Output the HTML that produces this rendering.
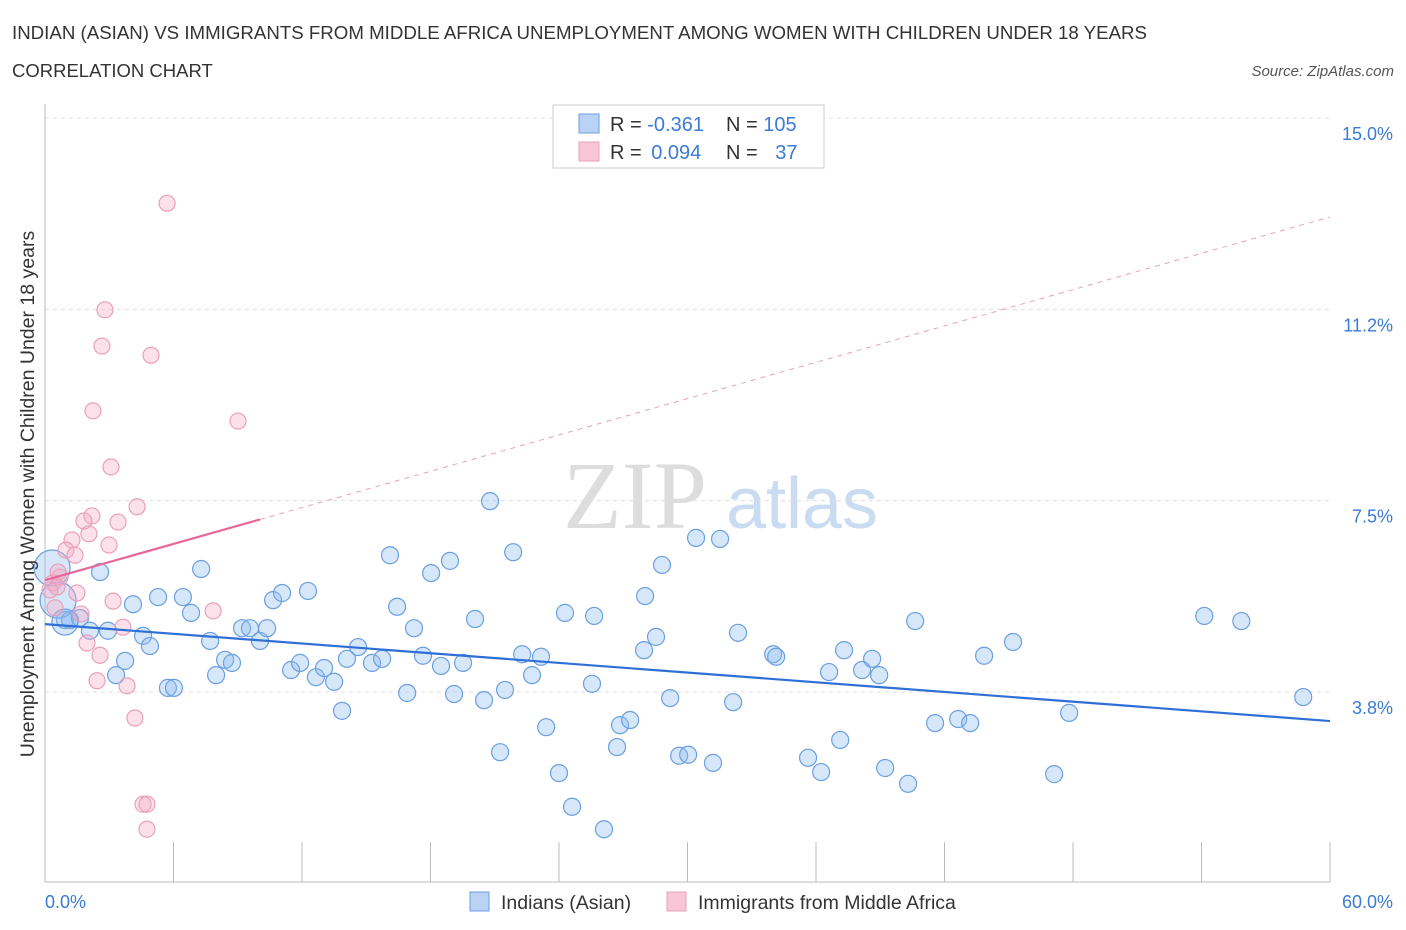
<!DOCTYPE html>
<html><head><meta charset="utf-8"><style>
body{margin:0;background:#fff;font-family:"Liberation Sans",sans-serif;}
#c{position:absolute;left:0;top:0;}
</style></head><body>
<svg id="c" width="1406" height="930">
<text x="12" y="39" font-size="18" fill="#333" textLength="1135" lengthAdjust="spacingAndGlyphs">INDIAN (ASIAN) VS IMMIGRANTS FROM MIDDLE AFRICA UNEMPLOYMENT AMONG WOMEN WITH CHILDREN UNDER 18 YEARS</text>
<text x="12" y="77" font-size="18.5" fill="#333">CORRELATION CHART</text>
<text x="1394" y="76" font-size="15" fill="#555" font-style="italic" text-anchor="end">Source: ZipAtlas.com</text>
<g>
<text x="635" y="528" font-size="96" fill="#ddd" font-family="Liberation Serif,serif" text-anchor="middle">ZIP</text>
<text x="802" y="528" font-size="72" fill="#c9dcf2" text-anchor="middle">atlas</text>
</g>
<g id="grid"></g><g id="axes"></g><g id="pts"></g><g id="trend"></g>
<text transform="translate(34,494) rotate(-90)" font-size="19.5" fill="#333" text-anchor="middle">Unemployment Among Women with Children Under 18 years</text>
<g>
<rect x="553" y="105" width="271" height="63" fill="#fff" stroke="#ccc"/>
<rect x="579" y="114" width="20" height="19" fill="#b9d3f5" stroke="#6a9fe0"/>
<rect x="579" y="142" width="20" height="19" fill="#f8c6d6" stroke="#eaa0b8"/>
<text x="610" y="131" font-size="20" fill="#333">R = <tspan fill="#3a7bd5">-0.361</tspan></text>
<text x="726" y="131" font-size="20" fill="#333">N = <tspan fill="#3a7bd5">105</tspan></text>
<text x="610" y="159" font-size="20" fill="#333">R = <tspan fill="#3a7bd5" dx="4">0.094</tspan></text>
<text x="726" y="159" font-size="20" fill="#333">N = <tspan fill="#3a7bd5" dx="12">37</tspan></text>
</g>
<g>
<rect x="470" y="892" width="19" height="19" fill="#b9d3f5" stroke="#6a9fe0"/>
<text x="501" y="909" font-size="19.5" fill="#333">Indians (Asian)</text>
<rect x="667" y="892" width="19" height="19" fill="#f8c6d6" stroke="#eaa0b8"/>
<text x="698" y="909" font-size="19.5" fill="#333">Immigrants from Middle Africa</text>
</g>
</svg>
<script>
const yTicks=[15,11.25,7.5,3.75];
const yTickLabels=["15.0%","11.2%","7.5%","3.8%"];
const xTicks=[0,6,12,18,24,30,36,42,48,54,60];
const xEndLabels=["0.0%","60.0%"];
const blueX=[2.57,4.11,5.28,6.44,7.29,6.82,7.71,7.99,8.41,8.73,9.20,9.57,10.04,10.37,10.65,11.07,11.49,11.91,12.28,12.65,13.03,13.50,13.87,14.10,14.62,15.27,15.74,16.11,16.44,16.91,17.23,17.65,18.03,18.49,18.91,19.10,19.52,20.08,20.50,20.78,21.25,21.48,21.86,22.28,22.74,23.16,23.40,24.00,24.28,24.61,25.54,25.64,26.10,26.71,26.85,27.32,27.97,28.02,28.53,28.81,29.19,29.61,30.03,30.40,31.19,31.52,32.13,32.36,34.00,34.14,35.63,36.24,36.61,37.13,37.31,38.15,38.62,38.95,39.23,40.30,40.63,41.56,42.64,43.20,43.85,45.20,47.12,47.82,54.13,55.86,58.75,0.93,1.17,1.63,2.10,2.94,3.32,3.74,4.58,4.90,5.74,6.02];
const blueY=[6.10,5.47,5.61,5.61,6.16,5.30,4.75,4.08,4.38,4.32,5.00,5.00,4.75,5.00,5.55,5.69,4.18,4.32,5.73,4.04,4.22,3.95,3.38,4.40,4.63,4.32,4.40,6.43,5.42,3.73,5.00,4.46,6.08,4.26,6.32,3.71,4.32,5.18,3.59,7.49,2.57,3.79,6.49,4.49,4.08,4.44,3.06,2.16,5.30,1.50,3.91,5.24,1.06,2.67,3.10,3.20,4.57,5.63,4.83,6.24,3.63,2.50,2.52,6.77,2.36,6.75,3.55,4.91,4.49,4.44,2.46,2.18,4.14,2.81,4.57,4.18,4.40,4.08,2.26,1.95,5.14,3.14,3.22,3.14,4.46,4.73,2.14,3.34,5.24,5.14,3.65,5.16,5.16,5.20,4.95,4.95,4.08,4.36,4.85,4.65,3.83,3.83];
const bigBlueX=[0.33,0.61,0.93];
const bigBlueY=[6.18,5.55,5.12];
const pinkX=[5.70,2.80,2.66,4.95,2.24,9.01,3.08,4.30,2.19,1.82,3.41,2.05,1.26,2.99,0.98,1.40,0.70,0.37,0.56,1.49,3.18,7.85,0.47,1.68,3.64,1.96,2.57,2.43,3.83,4.20,4.58,4.76,4.76,0.61,0.23];
const pinkY=[13.33,11.24,10.53,10.35,9.26,9.06,8.16,7.38,7.20,7.10,7.08,6.85,6.73,6.63,6.53,6.43,6.00,5.89,5.81,5.69,5.53,5.34,5.40,5.28,5.02,4.71,4.47,3.97,3.87,3.24,1.55,1.55,1.06,6.10,5.75];
const blueTrend=[5.08,3.18];
const pinkTrend=[5.94,13.06];
const pinkSolidEnd=10.04;
const NS="http://www.w3.org/2000/svg";
const xs=v=>45+v/60*1285;
const ys=v=>118+(15-v)*51.02;
function mk(t,a,p){const e=document.createElementNS(NS,t);for(const k in a)e.setAttribute(k,a[k]);p.appendChild(e);return e;}
const grid=document.getElementById('grid'),axes=document.getElementById('axes'),pts=document.getElementById('pts'),tr=document.getElementById('trend');
yTicks.forEach((v,i)=>{
 const l=mk('line',{x1:45,x2:1330,y1:ys(v),y2:ys(v),stroke:'#ddd','stroke-dasharray':'4,4'},grid);
 
 
 const t=mk('text',{x:1393,y:ys(v)+22,'font-size':18,fill:'#3a7bd5','text-anchor':'end'},axes);
 t.textContent=yTickLabels[i];
 
 
});
let ax=mk('line',{x1:45,x2:45,y1:104,y2:882,stroke:'#bbb'},axes);


ax=mk('line',{x1:45,x2:1330,y1:882,y2:882,stroke:'#bbb'},axes);


xTicks.forEach(v=>{const l=mk('line',{x1:xs(v),x2:xs(v),y1:882,y2:842,stroke:'#bbb'},axes);
 
 });
[[0,45,'start'],[60,1393,'end']].forEach((d,i)=>{const t=mk('text',{x:d[1],y:908,'font-size':18,fill:'#3a7bd5','text-anchor':d[2]},axes);t.textContent=xEndLabels[i];
 
 });
blueX.forEach((x,i)=>{const c=mk('circle',{cx:xs(x),cy:ys(blueY[i]),r:8.5,fill:'rgba(140,185,240,0.35)',stroke:'#6a9fe0','stroke-width':1.2},pts);
 
 });
bigBlueX.forEach((x,i)=>{const c=mk('circle',{cx:xs(x),cy:ys(bigBlueY[i]),r:i==2?13:18,fill:'rgba(140,185,240,0.35)',stroke:'#6a9fe0','stroke-width':1.2},pts);
 
 });
pinkX.forEach((x,i)=>{const c=mk('circle',{cx:xs(x),cy:ys(pinkY[i]),r:8,fill:'rgba(245,170,195,0.35)',stroke:'#eaa0b8','stroke-width':1.2},pts);
 
 });
let l=mk('line',{x1:xs(0),y1:ys(blueTrend[0]),x2:xs(60),y2:ys(blueTrend[1]),stroke:'#2f6fd6','stroke-width':2.2},tr);


const py=x=>pinkTrend[0]+(pinkTrend[1]-pinkTrend[0])*x/60;
l=mk('line',{x1:xs(0),y1:ys(pinkTrend[0]),x2:xs(pinkSolidEnd),y2:ys(py(pinkSolidEnd)),stroke:'#e8679a','stroke-width':2.2},tr);


l=mk('line',{x1:xs(pinkSolidEnd),y1:ys(py(pinkSolidEnd)),x2:xs(60),y2:ys(pinkTrend[1]),stroke:'#eaa0b8','stroke-width':1,'stroke-dasharray':'5,5'},tr);


</script>
</body></html>
